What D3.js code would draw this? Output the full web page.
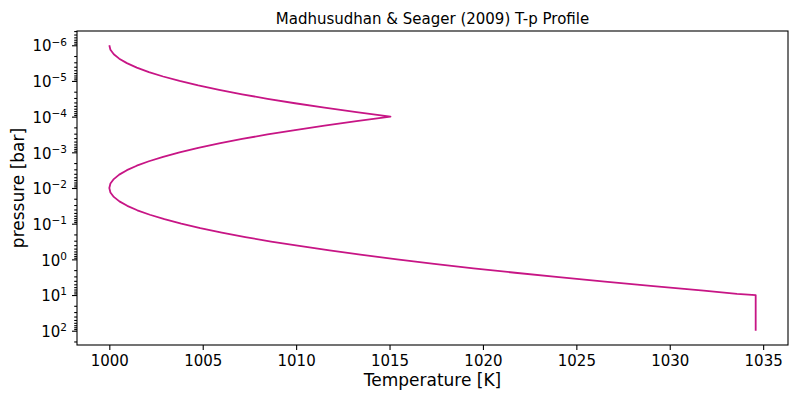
<!DOCTYPE html>
<html lang="en">
<head>
    <meta charset="UTF-8">
    <title>T-p Profile</title>
    <script src="https://d3js.org/d3.v7.min.js"></script>
    <style>
        body {
            margin: 0;
            background: #fff;
        }
        svg text {
            font-family: "DejaVu Sans", sans-serif;
            fill: #000;
        }
    </style>
</head>
<body>
    <div id="chart"></div>

    <script>
        // log10 of pressure [bar], top of atmosphere downwards
        const log10Pressure = [
            -6, -5.875, -5.75, -5.625, -5.5, -5.375, -5.25, -5.125,
            -5, -4.875, -4.75, -4.625, -4.5, -4.375, -4.25, -4.125,
            -4, -3.875, -3.75, -3.625, -3.5, -3.375, -3.25, -3.125,
            -3, -2.875, -2.75, -2.625, -2.5, -2.375, -2.25, -2.125,
            -2, -1.875, -1.75, -1.625, -1.5, -1.375, -1.25, -1.125,
            -1, -0.875, -0.75, -0.625, -0.5, -0.375, -0.25, -0.125,
            0, 0.125, 0.25, 0.375, 0.5, 0.625, 0.75, 0.875,
            0.97, 1, 2
        ];

        // temperature [K] at each pressure
        const temperature = [
            1000.00, 1000.06, 1000.24, 1000.53, 1000.94, 1001.47, 1002.12, 1002.88,
            1003.76, 1004.76, 1005.88, 1007.11, 1008.47, 1009.94, 1011.52, 1013.23,
            1015.05, 1013.23, 1011.52, 1009.94, 1008.47, 1007.11, 1005.88, 1004.76,
            1003.76, 1002.88, 1002.12, 1001.47, 1000.94, 1000.53, 1000.24, 1000.06,
            1000.00, 1000.06, 1000.24, 1000.54, 1000.96, 1001.50, 1002.17, 1002.95,
            1003.85, 1004.87, 1006.02, 1007.28, 1008.66, 1010.17, 1011.79, 1013.54,
            1015.40, 1017.39, 1019.49, 1021.72, 1024.06, 1026.53, 1029.12, 1031.82,
            1033.60, 1034.60, 1034.60
        ];

        const xTicks = [1000, 1005, 1010, 1015, 1020, 1025, 1030, 1035];
        const yTickExponents = [-6, -5, -4, -3, -2, -1, 0, 1, 2];

        const titleText = 'Madhusudhan & Seager (2009) T-p Profile';
        const xLabel = 'Temperature [K]';
        const yLabel = 'pressure [bar]';

        const width = 800, height = 400;
        const margin = {top: 31, right: 12, bottom: 55, left: 77};
        const innerW = width - margin.left - margin.right;
        const innerH = height - margin.top - margin.bottom;

        const points = log10Pressure.map((lp, i) => ({p: Math.pow(10, lp), t: temperature[i]}));

        const tMin = d3.min(temperature), tMax = d3.max(temperature);
        const tPad = (tMax - tMin) * 0.05;
        const x = d3.scaleLinear()
            .domain([tMin - tPad, tMax + tPad])
            .range([0, innerW]);

        const lpMin = d3.min(log10Pressure), lpMax = d3.max(log10Pressure);
        const lpPad = (lpMax - lpMin) * 0.05;
        const y = d3.scaleLog()
            .domain([Math.pow(10, lpMin - lpPad), Math.pow(10, lpMax + lpPad)])
            .range([0, innerH]);

        const svg = d3.select('#chart').append('svg')
            .attr('width', width)
            .attr('height', height);

        const g = svg.append('g')
            .attr('transform', `translate(${margin.left},${margin.top})`);

        // the profile
        const line = d3.line()
            .x(d => x(d.t))
            .y(d => y(d.p));

        g.append('path')
            .datum(points)
            .attr('d', line)
            .attr('fill', 'none')
            .attr('stroke', '#c71585')
            .attr('stroke-width', 1.8)
            .attr('stroke-linejoin', 'round');

        // x axis
        const xAxis = g.append('g')
            .attr('transform', `translate(0,${innerH})`)
            .call(d3.axisBottom(x).tickValues(xTicks).tickFormat(d3.format('d'))
                .tickSize(5).tickPadding(5).tickSizeOuter(0));
        xAxis.selectAll('text').style('font-size', '15px');

        // y axis, minor ticks first
        const [d0, d1] = y.domain();
        const minor = [];
        for (let e = Math.floor(Math.log10(d0)); e <= Math.ceil(Math.log10(d1)); e++) {
            for (let m = 2; m <= 9; m++) {
                const v = m * Math.pow(10, e);
                if (v >= d0 && v <= d1) minor.push(v);
            }
        }
        g.append('g')
            .call(d3.axisLeft(y).tickValues(minor).tickSize(2.8).tickFormat('').tickSizeOuter(0))
            .call(s => s.select('.domain').remove());

        const yAxis = g.append('g')
            .call(d3.axisLeft(y)
                .tickValues(yTickExponents.map(e => Math.pow(10, e)))
                .tickSize(5).tickPadding(5).tickSizeOuter(0)
                .tickFormat(''));

        yAxis.selectAll('.tick text').each(function(d) {
            const e = Math.round(Math.log10(d));
            const t = d3.select(this)
                .attr('dy', '0.38em')
                .style('font-size', '15px');
            t.append('tspan').text('10');
            t.append('tspan')
                .attr('dy', '-0.55em')
                .style('font-size', '10.5px')
                .text(e < 0 ? '\u2212' + Math.abs(e) : String(e));
        });

        svg.selectAll('.tick line').attr('stroke', '#000').attr('stroke-width', 1.1);
        svg.selectAll('.domain').remove();

        // frame
        g.append('rect')
            .attr('width', innerW)
            .attr('height', innerH)
            .attr('fill', 'none')
            .attr('stroke', '#000')
            .attr('stroke-width', 1.1);

        // labels
        svg.append('text')
            .attr('x', margin.left + innerW / 2)
            .attr('y', 24)
            .attr('text-anchor', 'middle')
            .style('font-size', '15px')
            .text(titleText);

        svg.append('text')
            .attr('x', margin.left + innerW / 2)
            .attr('y', 386)
            .attr('text-anchor', 'middle')
            .style('font-size', '17px')
            .text(xLabel);

        svg.append('text')
            .attr('transform', `translate(24,${margin.top + innerH / 2}) rotate(-90)`)
            .attr('text-anchor', 'middle')
            .style('font-size', '17px')
            .text(yLabel);
    </script>
</body>
</html>
